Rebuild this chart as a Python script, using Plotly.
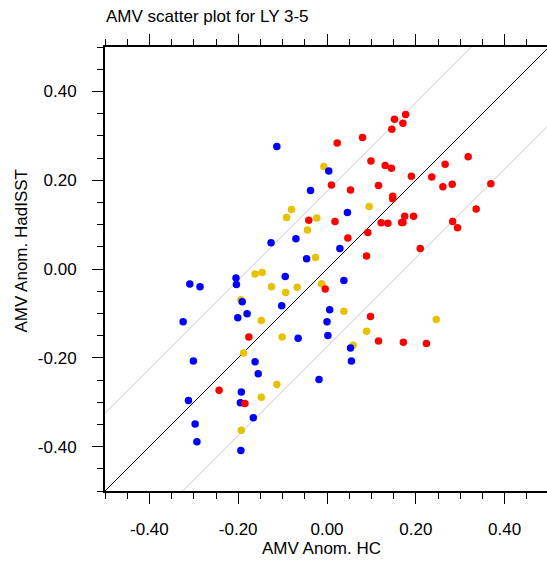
import plotly.graph_objects as go

# ---- data ----
red_x = [-0.041, 0.177, 0.152, 0.171, 0.146, 0.080, 0.023, 0.099, 0.131, 0.145, 0.318, 0.266, 0.190, 0.236,
         0.010, 0.053, 0.116, 0.261, 0.282, 0.369, 0.148, 0.148, 0.336, 0.175, 0.195, 0.018, 0.122, 0.137,
         0.168, 0.171, 0.283, 0.294, 0.047, 0.092, 0.210, 0.089, -0.004, -0.176, -0.243, -0.185, 0.098,
         0.116, 0.172, 0.224]
red_y = [0.110, 0.348, 0.337, 0.328, 0.315, 0.296, 0.284, 0.243, 0.233, 0.227, 0.253, 0.236, 0.209, 0.207,
         0.189, 0.178, 0.188, 0.185, 0.191, 0.192, 0.164, 0.158, 0.135, 0.119, 0.119, 0.107, 0.104, 0.103,
         0.105, 0.105, 0.107, 0.093, 0.070, 0.082, 0.046, 0.029, -0.045, -0.153, -0.273, -0.303, -0.107,
         -0.162, -0.165, -0.168]

yellow_x = [-0.007, -0.080, -0.091, -0.023, -0.044, -0.026, 0.095, -0.162, -0.146, -0.125, -0.093, -0.067,
            -0.012, -0.194, -0.148, -0.101, -0.188, -0.113, -0.148, -0.193, 0.038, 0.246, 0.089, 0.059]
yellow_y = [0.231, 0.134, 0.116, 0.115, 0.088, 0.026, 0.141, -0.011, -0.008, -0.040, -0.053, -0.041,
            -0.033, -0.069, -0.116, -0.153, -0.189, -0.260, -0.289, -0.363, -0.095, -0.114, -0.140, -0.172]

blue_x = [-0.113, 0.004, -0.037, -0.126, -0.070, -0.046, 0.046, 0.029, -0.309, -0.286, -0.205, -0.204,
          -0.094, -0.191, -0.102, -0.324, -0.201, -0.180, 0.006, 0.000, 0.002, -0.065, -0.301, -0.162,
          -0.155, -0.018, -0.193, -0.312, -0.195, -0.166, -0.297, -0.293, -0.194, 0.038, 0.053, 0.055]
blue_y = [0.276, 0.221, 0.177, 0.059, 0.068, 0.023, 0.127, 0.046, -0.034, -0.040, -0.020, -0.035,
          -0.017, -0.074, -0.083, -0.119, -0.110, -0.101, -0.092, -0.119, -0.150, -0.156, -0.207, -0.209,
          -0.236, -0.249, -0.277, -0.296, -0.301, -0.335, -0.349, -0.389, -0.409, -0.026, -0.178, -0.207]

band_offset = 0.175
tick_vals = [-0.4, -0.2, 0.0, 0.2, 0.4]
tick_text = ["-0.40", "-0.20", "0.00", "0.20", "0.40"]

FONT = "Liberation Sans, Arial, Helvetica, sans-serif"

fig = go.Figure()

line_x = [-1.0, 1.0]
for off, col in [(band_offset, "#c8c8c8"), (-band_offset, "#c8c8c8"), (0.0, "black")]:
    fig.add_trace(go.Scatter(x=line_x, y=[v + off for v in line_x], mode="lines",
                             line=dict(color=col, width=1), hoverinfo="skip", showlegend=False))

for xs, ys, col in [(yellow_x, yellow_y, "#e8c200"), (blue_x, blue_y, "#0000ff"), (red_x, red_y, "#ff0000")]:
    fig.add_trace(go.Scatter(x=xs, y=ys, mode="markers",
                             marker=dict(color=col, size=7.5, line=dict(width=0)),
                             showlegend=False, cliponaxis=True))

axis_common = dict(
    tickmode="array", tickvals=tick_vals, ticktext=tick_text,
    ticks="outside", ticklen=11, tickwidth=1, tickcolor="black",
    showline=True, linecolor="black", linewidth=2,
    showgrid=False, zeroline=False,
    tickfont=dict(family=FONT, size=17, color="black"),
    minor=dict(tickmode="linear", tick0=0, dtick=0.05, ticks="outside", ticklen=6,
               tickwidth=1, tickcolor="black", showgrid=False),
    automargin=False,
)

fig.update_xaxes(range=[-0.5, 0.4955], mirror="allticks", ticklabelstandoff=11, **axis_common)
fig.update_yaxes(range=[-0.5, 0.5], mirror=False, ticklabelstandoff=12, **axis_common)

fig.update_layout(
    width=547, height=561,
    margin=dict(l=105, r=0, t=47, b=70),
    plot_bgcolor="white", paper_bgcolor="white",
    font=dict(family=FONT, color="black"),
    annotations=[
        dict(text="AMV scatter plot for LY 3-5", xref="paper", yref="paper", x=0, y=1,
             xanchor="left", yanchor="bottom", yshift=19, xshift=-1, showarrow=False,
             font=dict(family=FONT, size=17, color="black")),
        dict(text="AMV Anom. HC", xref="paper", yref="paper", x=(321 - 105) / 442, y=0,
             xanchor="center", yanchor="top", yshift=-46, showarrow=False,
             font=dict(family=FONT, size=17, color="black")),
        dict(text="AMV Anom. HadISST", xref="paper", yref="paper", x=(21 - 105) / 442,
             y=(491 - 251.5) / 444, xanchor="center", yanchor="middle", textangle=-90,
             showarrow=False, font=dict(family=FONT, size=17, color="black")),
    ],
)

fig.write_html("out.html", config={"displayModeBar": False},
               post_script="document.body.style.margin='0';")
